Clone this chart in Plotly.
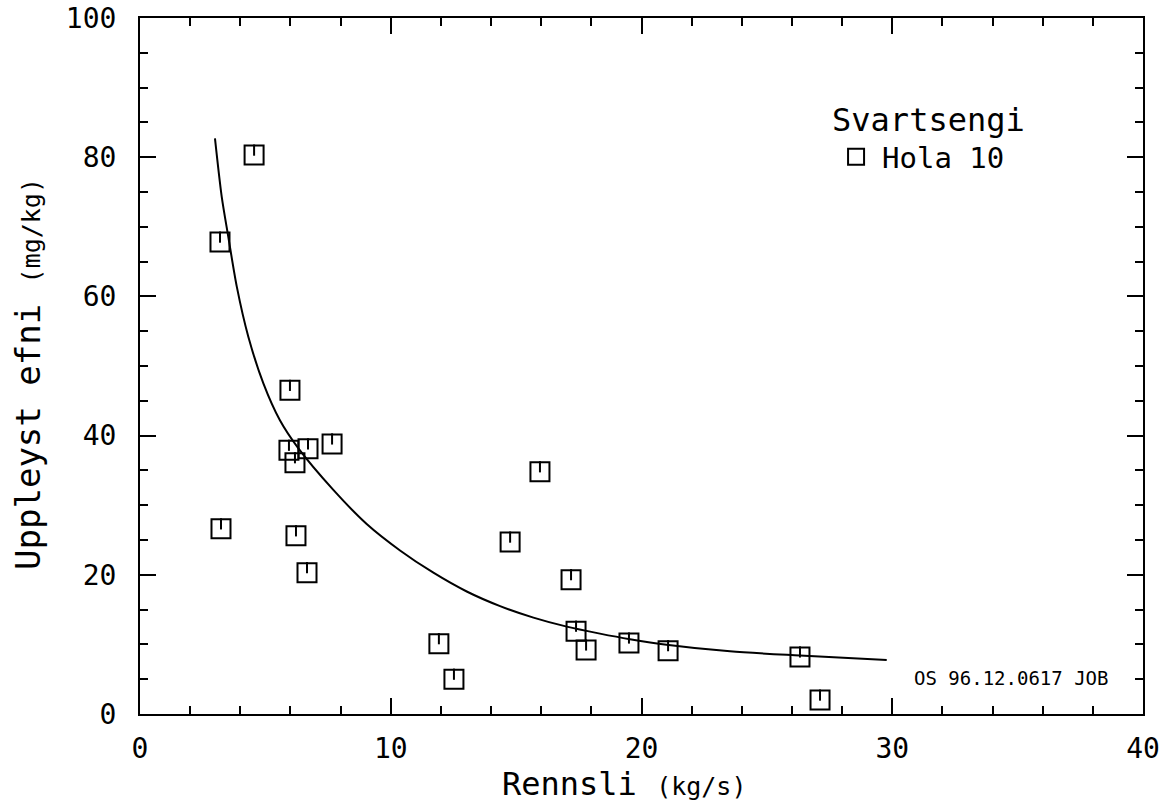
import plotly.graph_objects as go

# Observed data (Hola 10)
flow = [4.55, 3.19, 5.98, 5.94, 6.18, 6.70, 7.66, 3.23, 6.22, 6.66, 11.92, 12.52,
        14.76, 15.95, 17.19, 17.39, 17.79, 19.50, 21.06, 26.32, 27.12]
solids = [80.3, 67.8, 46.5, 37.9, 36.1, 38.1, 38.8, 26.6, 25.6, 20.3, 10.1, 5.0,
          24.7, 34.8, 19.3, 11.9, 9.2, 10.2, 9.1, 8.2, 2.0]

# Fitted curve
fit_x = [2.99, 3.26, 3.52, 3.86, 4.32, 4.92, 5.58, 6.31, 7.71, 9.04, 10.37, 11.70,
         13.03, 14.36, 15.69, 17.02, 18.34, 19.54, 21.0, 23.53, 26.32, 29.78]
fit_y = [82.7, 74.3, 68.6, 61.4, 54.2, 47.5, 42.2, 38.2, 32.2, 27.3, 23.5, 20.3,
         17.6, 15.5, 13.85, 12.55, 11.55, 10.75, 9.95, 9.0, 8.4, 7.76]

x_ticks = [0, 10, 20, 30, 40]
y_ticks = [0, 20, 40, 60, 80, 100]

FONT = "DejaVu Sans Mono"

fig = go.Figure()
fig.add_trace(go.Scatter(x=fit_x, y=fit_y, mode="lines",
                         line=dict(color="black", width=2, shape="spline", smoothing=0.8),
                         showlegend=False, hoverinfo="skip"))
fig.add_trace(go.Scatter(x=flow, y=solids, mode="markers", name="Hola 10",
                         marker=dict(symbol="square-open", size=19, color="black",
                                     line=dict(width=2, color="black"))))
fig.add_trace(go.Scatter(x=flow, y=solids, mode="markers", showlegend=False,
                         marker=dict(symbol="line-ns", size=8, angle=180, standoff=5,
                                     line=dict(width=2, color="black"))))

axis_common = dict(ticks="inside", ticklen=16, tickwidth=2, tickcolor="black",
                   showline=True, linecolor="black", linewidth=2, mirror="allticks",
                   showgrid=False, zeroline=False, automargin=False,
                   ticklabeloverflow="allow",
                   tickfont=dict(size=28, family=FONT))

fig.update_layout(
    width=1169, height=803,
    margin=dict(l=140, r=26, t=18, b=89),
    paper_bgcolor="white", plot_bgcolor="white",
    font=dict(family=FONT, color="black", size=27),
    legend=dict(x=0.688, y=0.897, xanchor="left", yanchor="top",
                bgcolor="rgba(0,0,0,0)", itemwidth=42,
                title=dict(text="Svartsengi", font=dict(size=32, family=FONT)),
                font=dict(size=29, family=FONT), itemsizing="trace"),
    xaxis=dict(range=[0, 40], tickvals=x_ticks, ticklabelstandoff=8,
               minor=dict(dtick=2, ticks="inside", ticklen=8, tickwidth=2, tickcolor="black"),
               **axis_common),
    yaxis=dict(range=[0, 100], tickvals=y_ticks, ticklabelstandoff=16,
               minor=dict(dtick=5, ticks="inside", ticklen=8, tickwidth=2, tickcolor="black"),
               **axis_common),
    annotations=[
        dict(text="OS 96.12.0617 JOB", x=0.868, y=0.052, xref="paper", yref="paper",
             showarrow=False, xanchor="center", yanchor="middle",
             font=dict(size=19, family=FONT)),
        dict(text="Rennsli <span style='font-size:25px'>(kg/s)</span>",
             x=0.483, y=-0.100, xref="paper", yref="paper", showarrow=False,
             xanchor="center", yanchor="middle", font=dict(size=32, family=FONT)),
        dict(text="Uppleyst efni <span style='font-size:25px'>(mg/kg)</span>",
             x=-0.1117, y=0.4885, xref="paper", yref="paper", showarrow=False,
             textangle=-90, xanchor="center", yanchor="middle",
             font=dict(size=34, family=FONT)),
    ],
)

fig.write_html("out.html",
               config={"displayModeBar": False},
               post_script="document.body.style.margin='0px';document.body.style.overflow='hidden';")
